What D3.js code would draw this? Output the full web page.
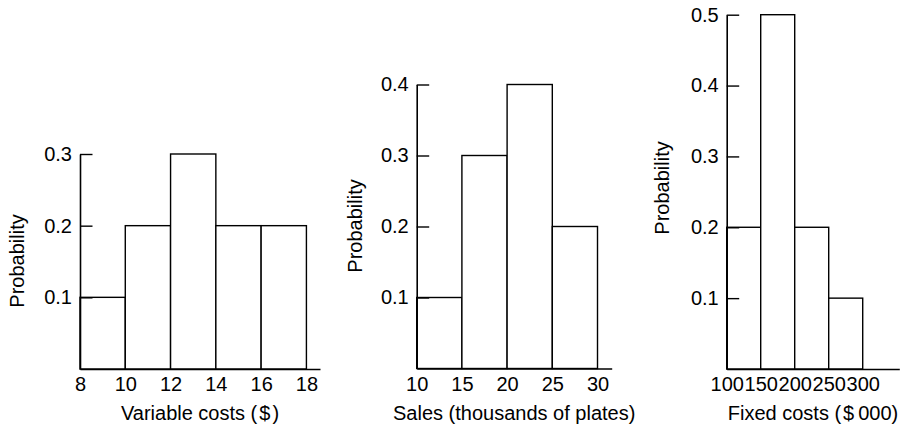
<!DOCTYPE html>
<html>
<head>
<meta charset="utf-8">
<script src="https://cdn.jsdelivr.net/npm/d3@7"></script>
<style>
  html, body { margin: 0; padding: 0; background: #fff; }
  svg { display: block; }
  text { font-family: "Liberation Sans", Arial, Helvetica, sans-serif; fill: #000; }
</style>
</head>
<body>
<svg id="chart" width="902" height="427"></svg>
<script>
// ---- Data ----
const varCostBins = [8, 10, 12, 14, 16, 18];
const varCostProb = [0.1, 0.2, 0.3, 0.2, 0.2];
const varCostXTicks = [8, 10, 12, 14, 16, 18];
const varCostYTicks = [0.1, 0.2, 0.3];

const salesBins = [10, 15, 20, 25, 30];
const salesProb = [0.1, 0.3, 0.4, 0.2];
const salesXTicks = [10, 15, 20, 25, 30];
const salesYTicks = [0.1, 0.2, 0.3, 0.4];

const fixedBins = [100, 150, 200, 250, 300];
const fixedProb = [0.2, 0.5, 0.2, 0.1];
const fixedXTicks = [100, 150, 200, 250, 300];
const fixedYTicks = [0.1, 0.2, 0.3, 0.4, 0.5];

const yTitle = "Probability";
const xTitles = [
  ["Variable costs (", "$", ")"],
  ["Sales (thousands of plates)"],
  ["Fixed costs (", "$", "000)"]
];

// ---- Layout (positions/styles only) ----
const panels = [
  { bins: varCostBins, prob: varCostProb, xt: varCostXTicks, yt: varCostYTicks,
    xDom: [8, 18.6], xRange: [80, 320], yDom: [0, 0.3], yRange: [369, 154],
    yLabelX: 24, yLabelY: 261, title: xTitles[0], gaps: [2, 2] },
  { bins: salesBins, prob: salesProb, xt: salesXTicks, yt: salesYTicks,
    xDom: [10, 31.57], xRange: [416.7, 611.7], yDom: [0, 0.4], yRange: [368.5, 84.5],
    yLabelX: 362, yLabelY: 226, title: xTitles[1], gaps: [] },
  { bins: fixedBins, prob: fixedProb, xt: fixedXTicks, yt: fixedYTicks,
    xDom: [100, 353.8], xRange: [726.7, 899.3], yDom: [0, 0.5], yRange: [369, 14.7],
    yLabelX: 669, yLabelY: 188, title: xTitles[2], gaps: [2, 4] }
];

const FS = 20;
const svg = d3.select("#chart");

panels.forEach(p => {
  const x = d3.scaleLinear().domain(p.xDom).range(p.xRange);
  const y = d3.scaleLinear().domain(p.yDom).range(p.yRange);
  const g = svg.append("g");

  // bars
  const bars = p.prob.map((v, i) => ({ x0: p.bins[i], x1: p.bins[i + 1], v }));
  g.selectAll("rect.bar").data(bars).join("rect")
    .attr("class", "bar")
    .attr("x", d => x(d.x0))
    .attr("y", d => y(d.v))
    .attr("width", d => x(d.x1) - x(d.x0))
    .attr("height", d => y(0) - y(d.v))
    .attr("fill", "#fff")
    .attr("stroke", "#000")
    .attr("stroke-width", 1.4);

  // x axis
  const xa = g.append("g")
    .attr("transform", `translate(0,${y(0)})`)
    .call(d3.axisBottom(x).tickValues(p.xt).tickFormat(d3.format("d"))
      .tickSizeInner(0).tickSizeOuter(0).tickPadding(8));
  xa.select(".domain").attr("stroke-width", 1.6);
  xa.selectAll("text").style("font-size", FS + "px");

  // y axis
  const ya = g.append("g")
    .attr("transform", `translate(${x(p.xDom[0])},0)`)
    .call(d3.axisLeft(y).tickValues(p.yt).tickFormat(d3.format(".1f"))
      .tickSizeInner(-12.5).tickSizeOuter(0).tickPadding(8));
  ya.select(".domain").attr("stroke-width", 1.6);
  ya.selectAll(".tick line").attr("stroke-width", 1.4);
  ya.selectAll("text").style("font-size", FS + "px");

  // y title
  g.append("text")
    .attr("transform", `translate(${p.yLabelX},${p.yLabelY}) rotate(-90)`)
    .attr("text-anchor", "middle")
    .style("font-size", FS + "px")
    .text(yTitle);

  // x title
  const cx = (p.xRange[0] + p.xRange[1]) / 2;
  const t = g.append("text")
    .attr("x", cx)
    .attr("y", 420)
    .attr("text-anchor", "middle")
    .style("font-size", FS + "px");
  p.title.forEach((s, i) => {
    const ts = t.append("tspan").text(s);
    if (i > 0) ts.attr("dx", p.gaps[i - 1]);
  });
});
</script>
</body>
</html>
